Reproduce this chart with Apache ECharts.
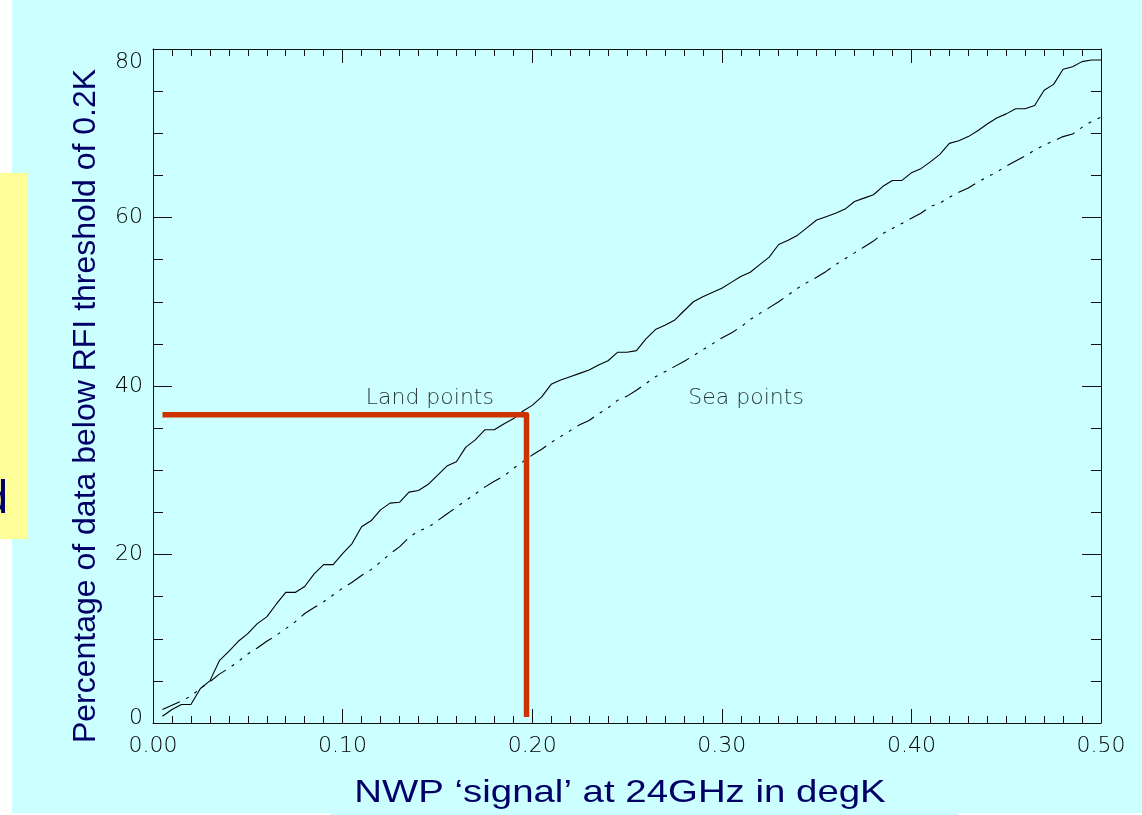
<!DOCTYPE html>
<html>
<head>
<meta charset="utf-8">
<script src="https://cdn.jsdelivr.net/npm/echarts@6/dist/echarts.min.js"></script>
<style>
html,body{margin:0;padding:0;background:#ffffff;}
#chart{width:1142px;height:815px;}
</style>
</head>
<body>
<div id="chart"></div>
<script>
// ---- data ----
var signal = [0.005,0.01,0.015,0.02,0.025,0.03,0.035,0.04,0.045,0.05,
  0.055,0.06,0.065,0.07,0.075,0.08,0.085,0.09,0.095,0.10,
  0.105,0.11,0.115,0.12,0.125,0.13,0.135,0.14,0.145,0.15,
  0.155,0.16,0.165,0.17,0.175,0.18,0.185,0.19,0.195,0.20,
  0.205,0.21,0.215,0.22,0.225,0.23,0.235,0.24,0.245,0.25,
  0.255,0.26,0.265,0.27,0.275,0.28,0.285,0.29,0.295,0.30,
  0.305,0.31,0.315,0.32,0.325,0.33,0.335,0.34,0.345,0.35,
  0.355,0.36,0.365,0.37,0.375,0.38,0.385,0.39,0.395,0.40,
  0.405,0.41,0.415,0.42,0.425,0.43,0.435,0.44,0.445,0.45,
  0.455,0.46,0.465,0.47,0.475,0.48,0.485,0.49,0.495,0.50];
var landPct = [0.8,1.6,2.2,2.2,4.1,5.0,7.4,8.5,9.7,10.6,
  11.8,12.6,14.1,15.5,15.5,16.2,17.7,18.8,18.8,20.1,
  21.3,23.3,24.0,25.3,26.1,26.2,27.4,27.6,28.3,29.4,
  30.5,31.0,32.75,33.6,34.8,34.8,35.5,36.1,37.0,37.7,
  38.7,40.2,40.7,41.1,41.5,41.9,42.5,43.0,44.0,44.0,
  44.2,45.6,46.7,47.2,47.8,48.9,50.0,50.6,51.1,51.6,
  52.3,53.0,53.5,54.4,55.3,56.8,57.3,57.9,58.8,59.7,
  60.1,60.5,61.0,61.9,62.3,62.7,63.7,64.4,64.4,65.3,
  65.8,66.6,67.5,68.8,69.1,69.6,70.3,71.1,71.8,72.3,
  72.9,72.9,73.3,75.1,75.8,77.6,77.9,78.5,78.7,78.7];
var seaPct = [1.6,2.1,2.6,3.2,4.1,4.9,5.8,6.5,7.3,8.2,
  8.9,9.7,10.4,11.2,12.0,13.0,13.7,14.4,15.2,16.0,
  16.7,17.5,18.2,19.1,20.1,20.9,22.0,22.8,23.2,24.0,
  24.8,25.6,26.4,27.2,28.0,28.7,29.3,30.2,31.0,31.8,
  32.5,33.3,34.0,34.7,35.4,35.9,36.7,37.4,38.3,38.8,
  39.5,40.3,41.1,41.7,42.3,42.9,43.6,44.3,45.0,45.7,
  46.3,47.0,47.9,48.6,49.3,50.0,50.8,51.6,52.3,52.9,
  53.6,54.4,55.1,55.8,56.5,57.2,58.1,58.7,59.3,59.9,
  60.5,61.3,61.7,62.4,63.0,63.5,64.2,64.8,65.4,66.1,
  66.7,67.3,68.0,68.6,69.1,69.6,69.9,70.7,71.4,71.9];
// red threshold marker (x, y pairs)
var markerX = [0.005, 0.197, 0.197];
var markerY = [36.6, 36.6, 0.7];
// annotation labels
var annoText = ['Land points', 'Sea points'];
var annoX = [0.146, 0.3128];
var annoY = [38.6, 38.6];
// axis ticks
var xTicks = {min: 0, max: 0.5, interval: 0.1};
var yTicks = {min: 0, max: 80, interval: 20};
var xTitle = 'NWP \u2018signal\u2019 at 24GHz in degK';
var yTitle = 'Percentage of data below RFI threshold of 0.2K';

function zip(a, b) { var r = []; for (var i = 0; i < a.length; i++) r.push([a[i], b[i]]); return r; }

var tickFont = {fontFamily: 'DejaVu Sans', fontWeight: 200, fontSize: 22, color: '#000'};
var axisCol = '#111';

var chart = echarts.init(document.getElementById('chart'), null, {renderer: 'canvas'});

function xAxisDef(pos, showLabel) {
  return {
    type: 'value', position: pos, min: xTicks.min, max: xTicks.max, interval: xTicks.interval,
    axisLine: {show: true, onZero: false, lineStyle: {color: axisCol, width: 1}},
    axisTick: {show: true, inside: true, length: 14, lineStyle: {color: axisCol, width: 1}},
    minorTick: {show: true, splitNumber: 10, length: 7, lineStyle: {color: axisCol, width: 1}},
    splitLine: {show: false},
    axisLabel: Object.assign({show: showLabel, margin: 12,
      formatter: function (v) { return v.toFixed(2); }}, tickFont)
  };
}
function yAxisDef(pos, showLabel) {
  return {
    type: 'value', position: pos, min: yTicks.min, max: yTicks.max, interval: yTicks.interval,
    axisLine: {show: true, onZero: false, lineStyle: {color: axisCol, width: 1}},
    axisTick: {show: true, inside: true, length: 19, lineStyle: {color: axisCol, width: 1}},
    minorTick: {show: true, splitNumber: 4, length: 10, lineStyle: {color: axisCol, width: 1}},
    splitLine: {show: false},
    axisLabel: Object.assign({show: showLabel, margin: 10,
      formatter: function (v) {
        if (v === yTicks.max) return '{top|' + v + '}';
        if (v === yTicks.min) return '{bot|' + v + '}';
        return String(v);
      },
      rich: {
        top: {padding: [27, 0, 0, 0], fontFamily: 'DejaVu Sans', fontWeight: 200, fontSize: 22, color: '#000'},
        bot: {padding: [0, 0, 10, 0], fontFamily: 'DejaVu Sans', fontWeight: 200, fontSize: 22, color: '#000'}
      }}, tickFont)
  };
}

var option = {
  animation: false,
  backgroundColor: '#ffffff',
  grid: {left: 153, top: 49, width: 948, height: 674, containLabel: false},
  xAxis: [xAxisDef('bottom', true), xAxisDef('top', false)],
  yAxis: [yAxisDef('left', true), yAxisDef('right', false)],
  graphic: [
    {type: 'rect', z: -100, silent: true, shape: {x: 12, y: 0, width: 1130, height: 813}, style: {fill: '#ccffff'}},
    {type: 'rect', z: -100, silent: true, shape: {x: 330, y: 780, width: 628, height: 35}, style: {fill: '#ccffff'}},
    {type: 'rect', z: -99, silent: true, shape: {x: 0, y: 173, width: 27, height: 366}, style: {fill: '#ffff99'}},
    {type: 'text', z: -98, silent: true, x: 8, y: 500,
      style: {text: 'd', fill: '#000066', font: '46px "Liberation Sans", Arial, sans-serif', textAlign: 'right', textVerticalAlign: 'middle'}},
    {type: 'text', silent: true, x: 86, y: 406, rotation: Math.PI / 2,
      style: {text: yTitle, fill: '#000066', font: '32px "Liberation Sans", Arial, sans-serif', textAlign: 'center', textVerticalAlign: 'middle'}},
    {type: 'text', silent: true, x: 620, y: 793, scaleX: 1.2, originX: 0, originY: 0,
      style: {text: xTitle, fill: '#000066', font: '32px "Liberation Sans", Arial, sans-serif', textAlign: 'center', textVerticalAlign: 'middle'}}
  ],
  series: [
    {name: 'Land', type: 'line', xAxisIndex: 0, yAxisIndex: 0, data: zip(signal, landPct),
      showSymbol: false, symbol: 'none', lineStyle: {color: '#000', width: 1.1}, z: 3},
    {name: 'Sea', type: 'line', xAxisIndex: 0, yAxisIndex: 0, data: zip(signal, seaPct),
      showSymbol: false, symbol: 'none',
      lineStyle: {color: '#000', width: 1.1, type: [19, 7, 3, 7, 3, 7, 3, 7]}, z: 3},
    {name: 'Threshold', type: 'line', xAxisIndex: 0, yAxisIndex: 0, data: zip(markerX, markerY),
      showSymbol: false, symbol: 'none',
      lineStyle: {color: '#cc3300', width: 5.5, join: 'round', cap: 'butt'}, z: 5},
    {name: 'Labels', type: 'scatter', xAxisIndex: 0, yAxisIndex: 0, symbolSize: 0,
      data: annoText.map(function (t, i) { return {value: [annoX[i], annoY[i]], name: t}; }),
      label: {show: true, position: 'inside', formatter: '{b}',
        fontFamily: 'DejaVu Sans', fontWeight: 200, fontSize: 22, color: '#000'}, z: 6}
  ]
};
chart.setOption(option);
</script>
</body>
</html>
